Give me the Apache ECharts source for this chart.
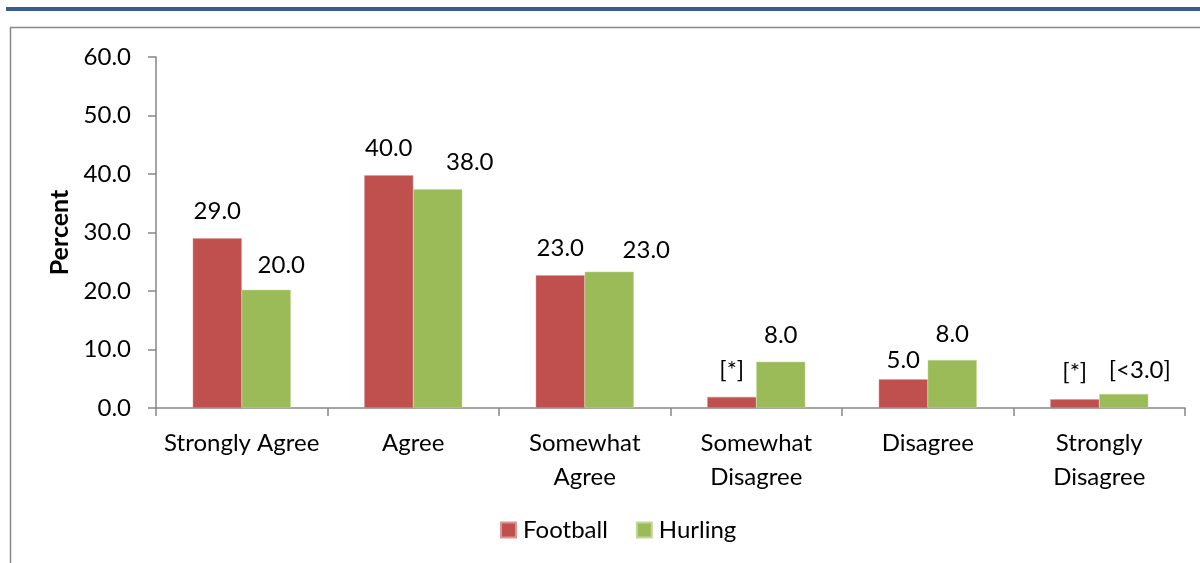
<!DOCTYPE html>
<html>
<head>
<meta charset="utf-8">
<script src="https://cdn.jsdelivr.net/npm/echarts@6/dist/echarts.min.js"></script>
<style>html,body{margin:0;padding:0;background:#fff;}#c{width:1200px;height:563px;}</style>
</head>
<body>
<div id="c"></div>
<script>
const categories = ['Strongly Agree', 'Agree', 'Somewhat\nAgree', 'Somewhat\nDisagree', 'Disagree', 'Strongly\nDisagree'];
const footballValues = [29.0, 39.8, 22.7, 1.9, 4.9, 1.5];
const hurlingValues = [20.2, 37.4, 23.3, 7.9, 8.2, 2.4];
const footballLabels = ['29.0', '40.0', '23.0', '[*]', '5.0', '[*]'];
const hurlingLabels = ['20.0', '38.0', '23.0', '8.0', '8.0', '[<3.0]'];
const yTicks = [0, 10, 20, 30, 40, 50, 60];

// label nudges (layout only), as in the source chart
const footballLabelShift = [[0, 0], [0, 0], [0, 0], [0, 0], [0, 8], [0, 0]];
const hurlingLabelShift = [[15, 2], [32, 0], [37, 6], [0, 0], [0, 1], [16, 3]];

const FONT = 'Lato';
const chart = echarts.init(document.getElementById('c'));
const labelStyle = (labels) => ({
  show: true, position: 'top', distance: 15,
  fontFamily: FONT, fontSize: 24, color: '#000',
  formatter: p => labels[p.dataIndex]
});
const withShift = (vals, shifts) => vals.map((v, i) => ({ value: v, label: { offset: shifts[i] } }));
chart.setOption({
  animation: false,
  textStyle: { fontFamily: FONT },
  graphic: [
    { type: 'rect', shape: { x: 6, y: 7, width: 1200, height: 4 }, style: { fill: '#365F91' }, z: 0 },
    { type: 'rect', shape: { x: 10.5, y: 27.5, width: 1300, height: 600 }, style: { fill: 'none', stroke: '#888888', lineWidth: 1.5 }, z: 0 }
  ],
  grid: { left: 156, right: 15, top: 57, bottom: 155, containLabel: false },
  legend: {
    bottom: 16, left: 495, icon: 'rect', itemWidth: 15, itemHeight: 15, itemGap: 28,
    textStyle: { fontFamily: FONT, fontSize: 24, color: '#000', padding: [0, 0, 0, 2] },
    data: ['Football', 'Hurling']
  },
  xAxis: {
    type: 'category', data: categories,
    axisLine: { lineStyle: { color: '#868686', width: 1.5 } },
    axisTick: { show: true, length: 8, lineStyle: { color: '#868686', width: 1.5 } },
    axisLabel: { fontFamily: FONT, fontSize: 24, color: '#000', lineHeight: 34, margin: 18, interval: 0 }
  },
  yAxis: {
    type: 'value', min: yTicks[0], max: yTicks[yTicks.length - 1], interval: 10,
    name: 'Percent', nameLocation: 'middle', nameGap: 81, nameRotate: 90,
    nameTextStyle: { fontFamily: FONT, fontSize: 25, fontWeight: 'bold', color: '#000' },
    axisLine: { show: true, lineStyle: { color: '#868686', width: 1.5 } },
    axisTick: { show: true, length: 8, lineStyle: { color: '#868686', width: 1.5 } },
    splitLine: { show: false },
    axisLabel: { fontFamily: FONT, fontSize: 24, color: '#000', margin: 25, formatter: v => v.toFixed(1) }
  },
  series: [
    { name: 'Football', type: 'bar', data: withShift(footballValues, footballLabelShift), barWidth: 49, barGap: '0%',
      itemStyle: { color: '#C0504D', borderColor: '#D99694', borderWidth: 0.5 }, label: labelStyle(footballLabels) },
    { name: 'Hurling', type: 'bar', data: withShift(hurlingValues, hurlingLabelShift), barWidth: 49, barGap: '0%',
      itemStyle: { color: '#9BBB59', borderColor: '#C3D69B', borderWidth: 0.5 }, label: labelStyle(hurlingLabels) }
  ]
});
</script>
</body>
</html>
